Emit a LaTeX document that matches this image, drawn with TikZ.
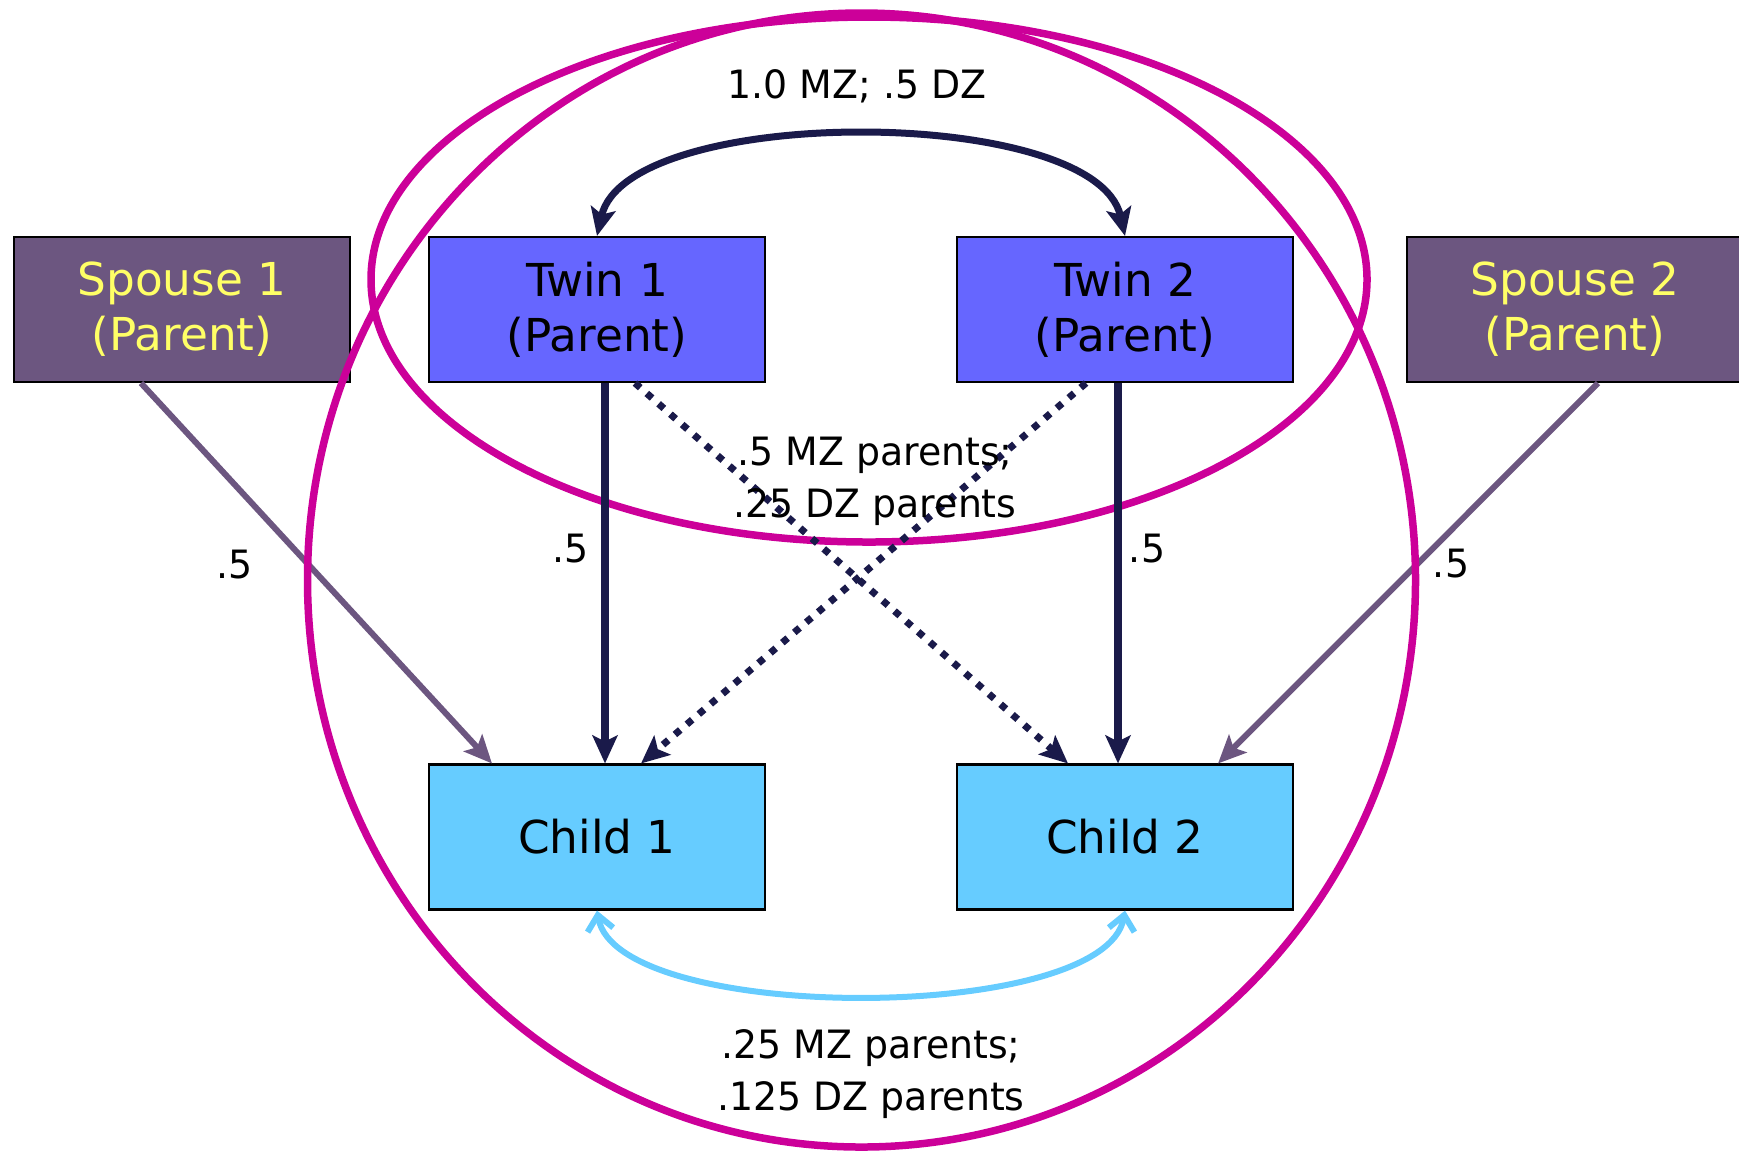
\documentclass[tikz,border=0pt]{standalone}
\usepackage{fontspec}
\setmainfont{DejaVu Sans}
\newfontfamily\lblfont{DejaVu Sans}[FakeStretch=0.97]
\usepackage{xcolor}
\usetikzlibrary{arrows.meta,calc}

\definecolor{ringmag}{HTML}{CC0099}
\definecolor{arrownavy}{HTML}{1A1A4A}
\definecolor{spousepurple}{HTML}{6C5680}
\definecolor{spouseyellow}{HTML}{FFFF66}
\definecolor{twinblue}{HTML}{6666FF}
\definecolor{childblue}{HTML}{66CCFF}

\begin{document}
\begin{tikzpicture}[
	box/.style={draw=black,line width=0.6pt,minimum width=3.36cm,minimum height=1.45cm,inner sep=0pt,align=center,font=\fontsize{12.9}{15.6}\selectfont},
	spousebox/.style={box,fill=spousepurple,text=spouseyellow},
	twinbox/.style={box,fill=twinblue},
	childbox/.style={box,fill=childblue},
	lbl/.style={inner sep=0pt,align=center,font=\lblfont\fontsize{11.1}{14.8}\selectfont},
	ring/.style={draw=ringmag,line width=0.75mm},
	navyarrow/.style={color=arrownavy,line width=0.75mm},
	dotline/.style={line width=0.7mm,dash pattern=on 0.7mm off 0.87mm},
	spousearrow/.style={color=spousepurple,line width=0.6mm},
	childcurve/.style={draw=childblue,line width=0.6mm,{Straight Barb[length=1.5mm,width=2.6mm]}-{Straight Barb[length=1.5mm,width=2.6mm]}},
	>={Stealth[length=2.8mm,width=2.5mm,inset=0.6mm]}
	]
		\useasboundingbox (0,0) rectangle (17.39,-11.51);
		% parents
		\node[spousebox] (spouse1) at (1.82,-3.095) {Spouse 1\\(Parent)};
		\node[twinbox] (twin1) at (5.97,-3.095) {Twin 1\\(Parent)};
		\node[twinbox] (twin2) at (11.25,-3.095) {Twin 2\\(Parent)};
		\node[spousebox] (spouse2) at (15.75,-3.095) {Spouse 2\\(Parent)};
		% children
		\node[childbox] (child1) at (5.97,-8.37) {Child 1};
		\node[childbox] (child2) at (11.25,-8.37) {Child 2};
		%
		% spouse arrows
		\path[->,spousearrow]
		([xshift=-0.41cm]spouse1.south) edge ([xshift=-1.05cm]child1.north)
		([xshift=0.23cm]spouse2.south) edge ([xshift=0.93cm]child2.north);
		% rings
		\draw[ring] (8.615,-5.80) ellipse [x radius=5.54, y radius=5.67];
		\draw[ring] (8.69,-2.795) ellipse [x radius=4.98, y radius=2.625];
		% vertical arrows
		\path[->,navyarrow]
		([xshift=0.08cm]twin1.south) edge ([xshift=0.08cm]child1.north)
		([xshift=-0.07cm]twin2.south) edge ([xshift=-0.07cm]child2.north);
		% crossed arrows
		\path[->,navyarrow,dotline]
		([xshift=0.38cm]twin1.south) edge ([xshift=-0.57cm]child2.north)
		([xshift=-0.39cm]twin2.south) edge ([xshift=0.44cm]child1.north);
		% curved arrows
		\draw[<->,navyarrow,line width=0.7mm] (twin1.north) .. controls +(0.3,1.32) and +(-0.3,1.32) .. (twin2.north);
		\draw[childcurve] (child1.south) .. controls +(0.2,-1.14) and +(-0.2,-1.14) .. (child2.south);
		%
		% labels
		\node[lbl,anchor=base] (rtwins) at (8.57,-0.98) {1.0 MZ; .5 DZ};
		\node[lbl] (rcross) at (8.75,-4.81) {.5 MZ parents;\\.25 DZ parents};
		\node[lbl] (rcousins) at (8.71,-10.74) {.25 MZ parents;\\.125 DZ parents};
		\node[lbl,anchor=base] (wspouse1) at (2.35,-5.78) {.5};
		\node[lbl,anchor=base] (wtwin1) at (5.71,-5.62) {.5};
		\node[lbl,anchor=base] (wtwin2) at (11.47,-5.62) {.5};
		\node[lbl,anchor=base] (wspouse2) at (14.51,-5.77) {.5};
\end{tikzpicture}
\end{document}
